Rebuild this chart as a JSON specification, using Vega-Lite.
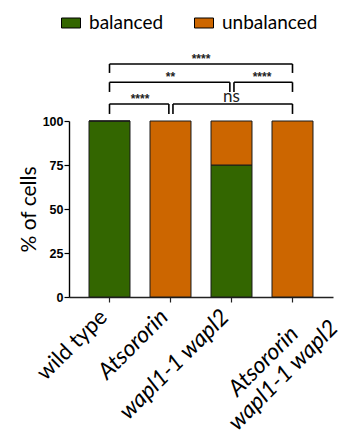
{
  "$schema": "https://vega.github.io/schema/vega-lite/v6.json",
  "width": 264,
  "height": 176,
  "autosize": {"type": "none"},
  "padding": {"left": 69, "top": 121, "right": 16, "bottom": 139},
  "config": {"view": {"stroke": null}, "font": "Lato"},
  "datasets": {
    "cells": [
      {"genotype": "wild type", "state": "balanced", "pct": 100},
      {"genotype": "wild type", "state": "unbalanced", "pct": 0},
      {"genotype": "Atsororin", "state": "balanced", "pct": 0},
      {"genotype": "Atsororin", "state": "unbalanced", "pct": 100},
      {"genotype": "wapl1-1 wapl2", "state": "balanced", "pct": 75},
      {"genotype": "wapl1-1 wapl2", "state": "unbalanced", "pct": 25},
      {"genotype": "Atsororin wapl1-1 wapl2", "state": "balanced", "pct": 0},
      {"genotype": "Atsororin wapl1-1 wapl2", "state": "unbalanced", "pct": 100}
    ],
    "brackets": [
      {"from": "wild type", "to": "Atsororin wapl1-1 wapl2", "y": 132.4, "ylow": 127.3, "kind": "full"},
      {"from": "wild type", "to": "wapl1-1 wapl2", "y": 122, "ylow": 116.5, "kind": "left"},
      {"from": "wapl1-1 wapl2", "to": "Atsororin wapl1-1 wapl2", "y": 122, "ylow": 116.5, "kind": "right"},
      {"from": "wild type", "to": "Atsororin", "y": 109.7, "ylow": 104, "kind": "left"},
      {"from": "Atsororin", "to": "Atsororin wapl1-1 wapl2", "y": 109.7, "ylow": 104, "kind": "right"}
    ],
    "notes": [
      {"at": "Atsororin", "y": 132.4, "label": "****", "place": "between"},
      {"at": "Atsororin", "y": 122, "label": "**", "place": "center"},
      {"at": "wapl1-1 wapl2", "y": 122, "label": "****", "place": "between"},
      {"at": "wild type", "y": 109.7, "label": "****", "place": "between"},
      {"at": "wapl1-1 wapl2", "y": 109.7, "label": "ns", "place": "ns"}
    ]
  },
  "layer": [
    {
      "data": {"name": "cells"},
      "mark": {"type": "bar", "stroke": "#1a1a1a", "strokeWidth": 1},
      "encoding": {
        "x": {
          "field": "genotype", "type": "nominal", "title": null,
          "scale": {"domain": ["wild type", "Atsororin", "wapl1-1 wapl2", "Atsororin wapl1-1 wapl2"], "paddingInner": 0.328, "paddingOuter": 0.328},
          "axis": {
            "domainColor": "#222", "domainWidth": 1.4, "tickColor": "#222", "tickWidth": 1.2, "tickSize": 5,
            "labelAngle": -45, "labelAlign": "right", "labelBaseline": "middle",
            "labelPadding": {"condition": {"test": "datum.value == 'Atsororin wapl1-1 wapl2'", "value": 5}, "value": 11},
            "labelOffset": {"condition": {"test": "datum.value == 'Atsororin wapl1-1 wapl2'", "value": 25}, "value": -6},
            "labelFont": "Lato", "labelColor": "black", "labelLineHeight": 24,
            "labelFontSize": {"condition": {"test": "datum.value == 'wild type'", "value": 22}, "value": 23},
            "labelFontStyle": {"condition": {"test": "datum.value == 'wild type'", "value": "normal"}, "value": "italic"},
            "labelExpr": "datum.value == 'Atsororin wapl1-1 wapl2' ? ['Atsororin\u00a0\u00a0\u00a0\u00a0\u00a0\u00a0\u200b', 'wapl1-1 wapl2'] : datum.value"
          }
        },
        "y": {
          "field": "pct", "type": "quantitative", "stack": "zero", "title": "% of cells",
          "scale": {"domain": [0, 100], "nice": false},
          "axis": {
            "values": [0, 25, 50, 75, 100], "grid": false,
            "domainColor": "black", "domainWidth": 1.4, "tickColor": "black", "tickWidth": 1.2, "tickSize": 5,
            "labelFont": "Liberation Sans", "labelFontWeight": "bold", "labelFontSize": 12.5, "labelColor": "black", "labelPadding": 1,
            "titleFont": "Lato", "titleFontSize": 21, "titleFontWeight": "normal", "titleColor": "black", "titlePadding": 3
          }
        },
        "order": {"field": "state", "sort": "ascending"},
        "color": {
          "field": "state", "type": "nominal",
          "scale": {"domain": ["balanced", "unbalanced"], "range": ["#336600", "#cc6600"]},
          "legend": {
            "orient": "none", "legendX": -8, "legendY": -108, "direction": "horizontal", "title": null,
            "symbolType": "M-1,-0.526h2v1.052h-2z", "symbolSize": 361, "symbolStrokeColor": "black", "symbolStrokeWidth": 1, "symbolOpacity": 1,
            "labelFont": "Lato", "labelFontSize": 19, "labelColor": "black", "labelOffset": 8, "columnPadding": 28
          }
        }
      }
    },
    {
      "data": {"name": "brackets"},
      "layer": [
        {
          "transform": [{"filter": "datum.kind == 'full'"}],
          "mark": {"type": "rule", "color": "black", "strokeWidth": 1.6},
          "encoding": {
            "x": {"field": "from", "type": "nominal", "title": null, "bandPosition": 0.5, "scale": {"domain": ["wild type", "Atsororin", "wapl1-1 wapl2", "Atsororin wapl1-1 wapl2"], "paddingInner": 0.328, "paddingOuter": 0.328}},
            "x2": {"field": "to", "bandPosition": 0.5},
            "y": {"field": "y", "type": "quantitative", "title": "% of cells"}
          }
        },
        {
          "transform": [{"filter": "datum.kind == 'left'"}],
          "mark": {"type": "rule", "color": "black", "strokeWidth": 1.6},
          "encoding": {
            "x": {"field": "from", "type": "nominal", "title": null, "bandPosition": 0.5, "scale": {"domain": ["wild type", "Atsororin", "wapl1-1 wapl2", "Atsororin wapl1-1 wapl2"], "paddingInner": 0.328, "paddingOuter": 0.328}},
            "x2": {"field": "to", "bandPosition": 0.46},
            "y": {"field": "y", "type": "quantitative", "title": "% of cells"}
          }
        },
        {
          "transform": [{"filter": "datum.kind == 'right'"}],
          "mark": {"type": "rule", "color": "black", "strokeWidth": 1.6},
          "encoding": {
            "x": {"field": "from", "type": "nominal", "title": null, "bandPosition": 0.56, "scale": {"domain": ["wild type", "Atsororin", "wapl1-1 wapl2", "Atsororin wapl1-1 wapl2"], "paddingInner": 0.328, "paddingOuter": 0.328}},
            "x2": {"field": "to", "bandPosition": 0.5},
            "y": {"field": "y", "type": "quantitative", "title": "% of cells"}
          }
        },
        {
          "transform": [{"filter": "datum.kind != 'right'"}],
          "mark": {"type": "rule", "color": "black", "strokeWidth": 1.6},
          "encoding": {
            "x": {"field": "from", "type": "nominal", "title": null, "bandPosition": 0.5, "scale": {"domain": ["wild type", "Atsororin", "wapl1-1 wapl2", "Atsororin wapl1-1 wapl2"], "paddingInner": 0.328, "paddingOuter": 0.328}},
            "y": {"field": "y", "type": "quantitative", "title": "% of cells"},
            "y2": {"field": "ylow"}
          }
        },
        {
          "transform": [{"filter": "datum.kind == 'right'"}],
          "mark": {"type": "rule", "color": "black", "strokeWidth": 1.6},
          "encoding": {
            "x": {"field": "from", "type": "nominal", "title": null, "bandPosition": 0.56, "scale": {"domain": ["wild type", "Atsororin", "wapl1-1 wapl2", "Atsororin wapl1-1 wapl2"], "paddingInner": 0.328, "paddingOuter": 0.328}},
            "y": {"field": "y", "type": "quantitative", "title": "% of cells"},
            "y2": {"field": "ylow"}
          }
        },
        {
          "transform": [{"filter": "datum.kind != 'left'"}],
          "mark": {"type": "rule", "color": "black", "strokeWidth": 1.6},
          "encoding": {
            "x": {"field": "to", "type": "nominal", "title": null, "bandPosition": 0.5, "scale": {"domain": ["wild type", "Atsororin", "wapl1-1 wapl2", "Atsororin wapl1-1 wapl2"], "paddingInner": 0.328, "paddingOuter": 0.328}},
            "y": {"field": "y", "type": "quantitative", "title": "% of cells"},
            "y2": {"field": "ylow"}
          }
        },
        {
          "transform": [{"filter": "datum.kind == 'left'"}],
          "mark": {"type": "rule", "color": "black", "strokeWidth": 1.6},
          "encoding": {
            "x": {"field": "to", "type": "nominal", "title": null, "bandPosition": 0.46, "scale": {"domain": ["wild type", "Atsororin", "wapl1-1 wapl2", "Atsororin wapl1-1 wapl2"], "paddingInner": 0.328, "paddingOuter": 0.328}},
            "y": {"field": "y", "type": "quantitative", "title": "% of cells"},
            "y2": {"field": "ylow"}
          }
        }
      ]
    },
    {
      "data": {"name": "notes"},
      "layer": [
        {
          "transform": [{"filter": "datum.place == 'between'"}],
          "mark": {"type": "text", "font": "Liberation Sans", "fontWeight": "bold", "fontSize": 12, "baseline": "bottom", "dy": 2, "color": "#222"},
          "encoding": {
            "x": {"field": "at", "type": "nominal", "title": null, "bandPosition": 1.244, "scale": {"domain": ["wild type", "Atsororin", "wapl1-1 wapl2", "Atsororin wapl1-1 wapl2"], "paddingInner": 0.328, "paddingOuter": 0.328}},
            "y": {"field": "y", "type": "quantitative", "title": "% of cells"},
            "text": {"field": "label"}
          }
        },
        {
          "transform": [{"filter": "datum.place == 'center'"}],
          "mark": {"type": "text", "font": "Liberation Sans", "fontWeight": "bold", "fontSize": 12, "baseline": "bottom", "dy": 2, "color": "#222"},
          "encoding": {
            "x": {"field": "at", "type": "nominal", "title": null, "bandPosition": 0.5, "scale": {"domain": ["wild type", "Atsororin", "wapl1-1 wapl2", "Atsororin wapl1-1 wapl2"], "paddingInner": 0.328, "paddingOuter": 0.328}},
            "y": {"field": "y", "type": "quantitative", "title": "% of cells"},
            "text": {"field": "label"}
          }
        },
        {
          "transform": [{"filter": "datum.place == 'ns'"}],
          "mark": {"type": "text", "font": "Lato", "fontSize": 17, "baseline": "alphabetic", "dy": -2, "color": "#222"},
          "encoding": {
            "x": {"field": "at", "type": "nominal", "title": null, "bandPosition": 0.5, "scale": {"domain": ["wild type", "Atsororin", "wapl1-1 wapl2", "Atsororin wapl1-1 wapl2"], "paddingInner": 0.328, "paddingOuter": 0.328}},
            "y": {"field": "y", "type": "quantitative", "title": "% of cells"},
            "text": {"field": "label"}
          }
        }
      ]
    }
  ]
}
